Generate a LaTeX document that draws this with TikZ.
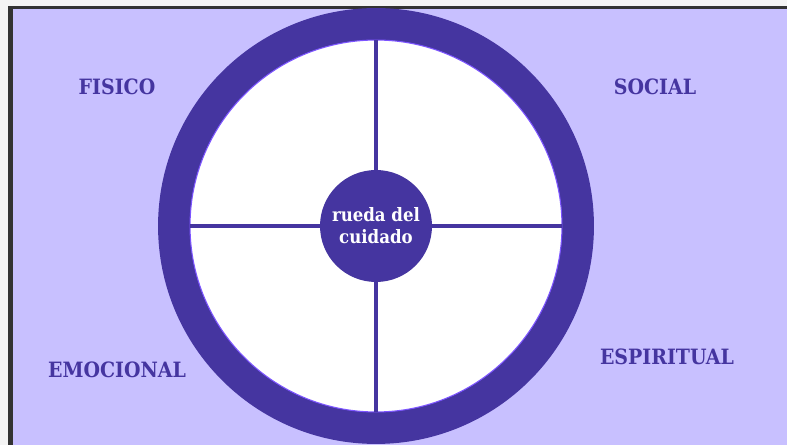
\documentclass[tikz,border=0pt]{standalone}
\usepackage{fontspec}
\setmainfont{DejaVu Serif Condensed}
\definecolor{wbg}{RGB}{200,192,255}
\definecolor{wdark}{RGB}{69,53,160}
\definecolor{wrim}{RGB}{124,84,255}
\definecolor{wframe}{RGB}{51,51,51}
\definecolor{wside}{RGB}{244,244,244}

\begin{document}
\begin{tikzpicture}[x=0.02cm, y=-0.02cm,
    ring/.style={circle, fill=wdark, minimum size=8.72cm, inner sep=0pt},
    disk/.style={circle, fill=white, draw=wrim, line width=0.6pt,
                 minimum size=7.44cm, inner sep=0pt},
    hubc/.style={circle, fill=wdark, minimum size=2.24cm, inner sep=0pt,
                 font=\bfseries\fontsize{10.5}{12.5}\selectfont, text=white,
                 align=center},
    spoke/.style={draw=wdark, line width=2.2pt},
    area/.style={font=\bfseries\fontsize{12}{14}\selectfont, text=wdark}]
  % page, as in the screenshot: side strip, dark frame, lilac card
  \useasboundingbox (0,0) rectangle (787,445);
  \fill[wside]  (0,0) rectangle (787,445);
  \fill[wframe] (8,6) rectangle (787,445);
  \fill[wbg]    (13,9) rectangle (787,445);
  \def\cx{376}
  \def\cy{226}
  % --- the wheel -------------------------------------------------------------
  \node[ring] (wheel) at (\cx,\cy) {};
  \node[disk] (rim)   at (\cx,\cy) {};
  \node[hubc] (hub)   at (\cx,\cy) {rueda del\\cuidado};
  \draw[spoke] (hub.north) -- (rim.north);
  \draw[spoke] (hub.south) -- (rim.south);
  \draw[spoke] (hub.west)  -- (rim.west);
  \draw[spoke] (hub.east)  -- (rim.east);
  % --- the four areas ----------------------------------------------------------
  \node[area] (fis) at (117,87)  {FISICO};
  \node[area] (soc) at (655,87)  {SOCIAL};
  \node[area] (emo) at (117,370) {EMOCIONAL};
  \node[area] (esp) at (667,357) {ESPIRITUAL};
\end{tikzpicture}
\end{document}
